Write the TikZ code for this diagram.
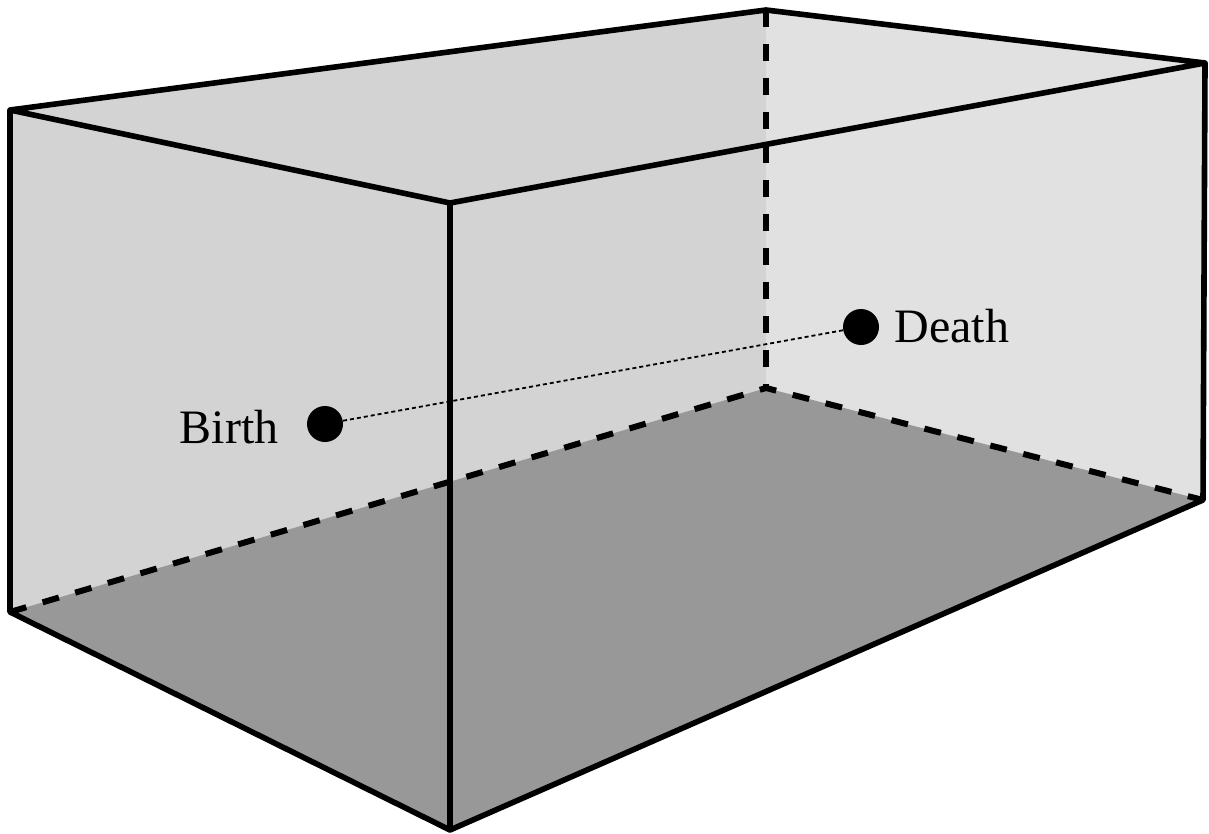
\documentclass[tikz,border=0pt]{standalone}
\usepackage{fontspec}
\setmainfont{Liberation Serif}
\definecolor{wallL}{HTML}{D3D3D3}
\definecolor{wallR}{HTML}{E1E1E1}
\definecolor{floorC}{HTML}{989898}
\begin{document}
\begin{tikzpicture}[x=0.5pt,y=-0.5pt,
  edge/.style={line width=2.8pt, line join=round},
  hidden/.style={line width=3pt, dash pattern=on 8.5pt off 8.5pt},
  dot/.style={circle, fill=black, inner sep=0pt, minimum size=18pt},
  lbl/.style={inner sep=0pt, font=\fontsize{24}{28}\selectfont},
  path/.style={line width=0.9pt, dash pattern=on 2pt off 1.5pt}]
\useasboundingbox (0,0) rectangle (1209,834);
\coordinate (A) at (10,110);
\coordinate (B) at (766,10);
\coordinate (C) at (1205,63);
\coordinate (D) at (450,203);
\coordinate (E) at (10,612);
\coordinate (F) at (450,830);
\coordinate (G) at (1203,500);
\coordinate (H) at (766,388);
% faces
\fill[wallL] (A) -- (B) -- (H) -- (E) -- cycle;
\fill[wallR] (B) -- (C) -- (G) -- (H) -- cycle;
\fill[floorC] (E) -- (H) -- (G) -- (F) -- cycle;
% hidden edges
\draw[hidden] (B) -- (H);
\draw[hidden] (E) -- (H) -- (G);
% visible edges
\draw[edge] (A) -- (B) -- (C) -- (D) -- cycle;
\draw[edge] (A) -- (E) -- (F) -- (G) -- (C);
\draw[edge] (D) -- (F);
% points
\node[dot] (birth) at (325,424) {};
\node[dot] (death) at (861,327) {};
\draw[path] (birth) -- (death);
\node[lbl, anchor=base east] (birthlbl) at (279,443) {Birth};
\node[lbl, anchor=base west] (deathlbl) at (894,342) {Death};
\end{tikzpicture}
\end{document}
